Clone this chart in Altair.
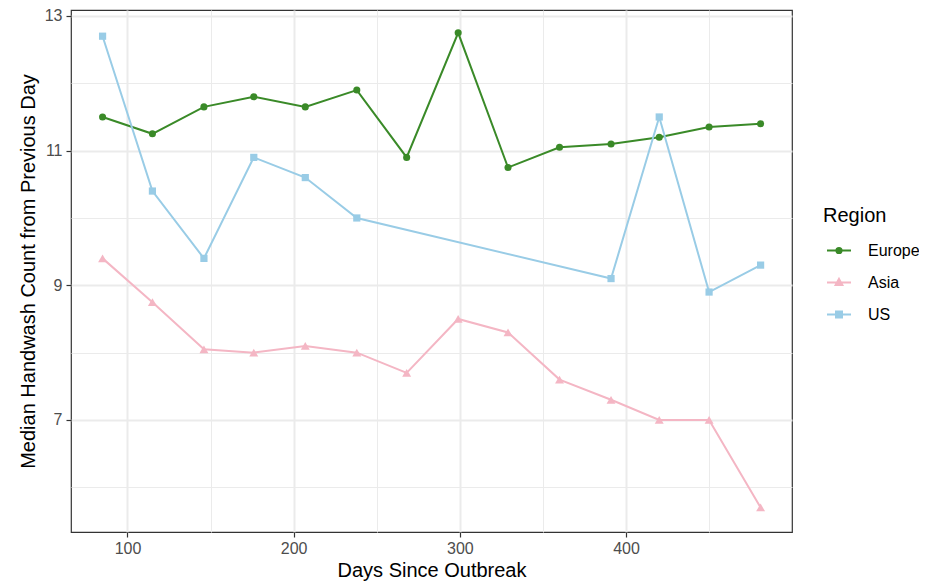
import altair as alt
import pandas as pd

regions = ["Europe", "Asia", "US"]
colors = ["#3A8A28", "#F4B6C4", "#99CCE6"]
shapes = ["circle", "triangle-up", "square"]
marker_sizes = [50, 80, 52]
legend_shapes = [
    "M-1,0H1M0.217,0A0.217,0.217,0,1,1,-0.217,0A0.217,0.217,0,1,1,0.217,0Z",
    "M-1,0H1M0,-0.3L0.28,0.2L-0.28,0.2Z",
    "M-1,0H1M-0.25,-0.25H0.25V0.25H-0.25Z",
]

days = [85, 115, 146, 176, 207, 238, 268, 299, 329, 360, 391, 420, 450, 481]
europe = [11.5, 11.25, 11.65, 11.8, 11.65, 11.9, 10.9, 12.75, 10.75, 11.05, 11.1, 11.2, 11.35, 11.4]
asia = [9.4, 8.75, 8.05, 8.0, 8.1, 8.0, 7.7, 8.5, 8.3, 7.6, 7.3, 7.0, 7.0, 5.7]
us_days = [85, 115, 146, 176, 207, 238, 391, 420, 450, 481]
us = [12.7, 10.4, 9.4, 10.9, 10.6, 10.0, 9.1, 11.5, 8.9, 9.3]

x_ticks = [100, 150, 200, 250, 300, 350, 400, 450]
y_ticks = [6, 7, 8, 9, 10, 11, 12, 13]

rows = []
for d, v in zip(days, europe):
    rows.append({"day": d, "value": v, "Region": "Europe"})
for d, v in zip(days, asia):
    rows.append({"day": d, "value": v, "Region": "Asia"})
for d, v in zip(us_days, us):
    rows.append({"day": d, "value": v, "Region": "US"})
df = pd.DataFrame(rows)

FONT = "Liberation Sans"

x_major = "datum.value % 100 === 0"
y_major = "datum.value % 2 === 1"

x_axis = alt.Axis(
    values=x_ticks, labelExpr=f"{x_major} ? datum.label : ''", title="Days Since Outbreak",
    grid=True, gridColor="#EBEBEB",
    gridWidth={"condition": {"test": x_major, "value": 2}, "value": 1},
    tickOpacity={"condition": {"test": x_major, "value": 1}, "value": 0},
    tickColor="#333333", tickWidth=1.2, tickSize=5, labelPadding=3,
    labelFontSize=16, labelColor="#4D4D4D", labelFont=FONT, labelOverlap=False, labelFlush=False,
    titleFontSize=20, titleFontWeight="normal", titleColor="black", titleFont=FONT, titlePadding=4,
    domain=False,
)
y_axis = alt.Axis(
    values=y_ticks, labelExpr=f"{y_major} ? datum.label : ''",
    title="Median Handwash Count from Previous Day",
    grid=True, gridColor="#EBEBEB",
    gridWidth={"condition": {"test": y_major, "value": 2}, "value": 1},
    tickOpacity={"condition": {"test": y_major, "value": 1}, "value": 0},
    tickColor="#333333", tickWidth=1.2, tickSize=5, labelPadding=4,
    labelFontSize=16, labelColor="#4D4D4D", labelFont=FONT, labelOverlap=False, labelFlush=False,
    titleFontSize=20, titleFontWeight="normal", titleColor="black", titleFont=FONT, titlePadding=6,
    domain=False,
)

xenc = alt.X("day:Q", scale=alt.Scale(domain=[66.0, 499.9], nice=False, zero=False), axis=x_axis)
yenc = alt.Y("value:Q", scale=alt.Scale(domain=[5.336, 13.089], nice=False, zero=False), axis=y_axis)
cscale = alt.Scale(domain=regions, range=colors)

base = alt.Chart(df)

lines = base.mark_line(strokeWidth=2).encode(
    x=xenc, y=yenc,
    color=alt.Color("Region:N", scale=cscale, legend=None),
)
points = base.mark_point(filled=True, opacity=1).encode(
    x=xenc, y=yenc,
    color=alt.Color("Region:N", scale=cscale, legend=None),
    shape=alt.Shape("Region:N", scale=alt.Scale(domain=regions, range=shapes), legend=None),
    size=alt.Size("Region:N", scale=alt.Scale(type="ordinal", domain=regions, range=marker_sizes), legend=None),
)
leg = alt.Legend(title="Region")
legend_layer = base.mark_point(filled=True, opacity=1).encode(
    x=xenc, y=yenc,
    fill=alt.Fill("Region:N", scale=cscale, legend=leg),
    stroke=alt.Stroke("Region:N", scale=cscale, legend=leg),
    shape=alt.Shape("Region:N", scale=alt.Scale(domain=regions, range=legend_shapes), legend=leg),
).transform_filter("false")

chart = alt.layer(lines, points, legend_layer).resolve_scale(
    shape="independent", fill="independent", stroke="independent"
).properties(
    width=721, height=522,
    autosize=alt.AutoSizeParams(type="none"),
    padding={"left": 63, "top": 2, "right": 127, "bottom": 50},
).configure(font=FONT).configure_view(
    stroke="#333333", strokeWidth=1.2
).configure_legend(
    orient="none", legendX=752, legendY=195.5, direction="vertical",
    titleFontSize=20, titleFontWeight="normal", titleColor="black", titleFont=FONT,
    labelFontSize=16, labelColor="black", labelFont=FONT,
    symbolSize=576, symbolStrokeWidth=2, symbolOffset=3, labelOffset=16,
    rowPadding=11, titlePadding=12, padding=0,
)

chart.save("out.html", embed_options={"renderer": "svg", "actions": False})
